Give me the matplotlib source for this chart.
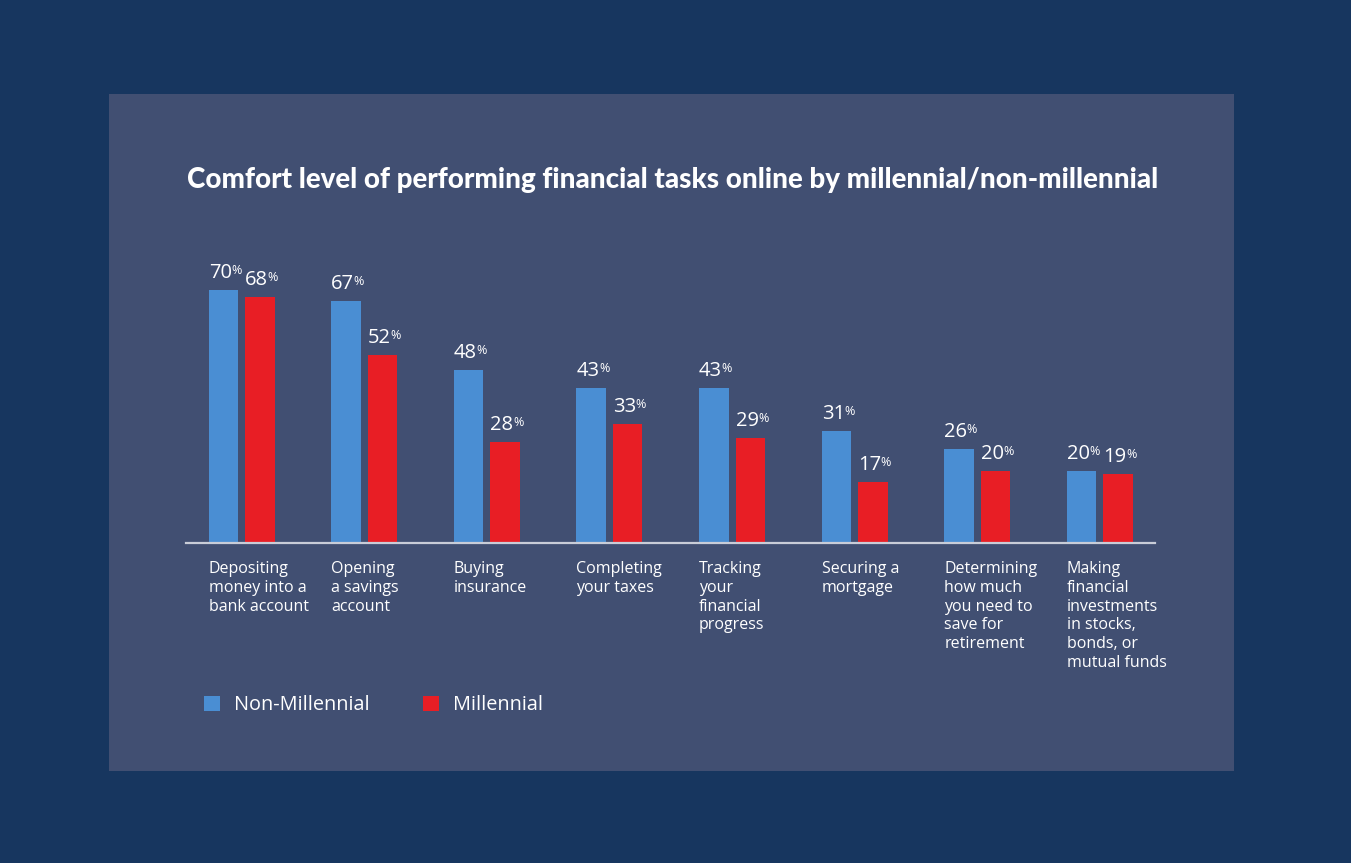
import matplotlib.pyplot as plt
from matplotlib.patches import Rectangle
import numpy as np

categories = [
    "Depositing\nmoney into a\nbank account",
    "Opening\na savings\naccount",
    "Buying\ninsurance",
    "Completing\nyour taxes",
    "Tracking\nyour\nfinancial\nprogress",
    "Securing a\nmortgage",
    "Determining\nhow much\nyou need to\nsave for\nretirement",
    "Making\nfinancial\ninvestments\nin stocks,\nbonds, or\nmutual funds",
]
non_millennial = [70, 67, 48, 43, 43, 31, 26, 20]
millennial = [68, 52, 28, 33, 29, 17, 20, 19]
series_names = ["Non-Millennial", "Millennial"]

OUTER = "#17365f"
PANEL = "#414f72"
BLUE = "#4a8ed3"
RED = "#e81e25"
FONT = ["Open Sans", "DejaVu Sans"]

W, H = 1351, 863
fig = plt.figure(figsize=(W / 100, H / 100), dpi=100)
fig.patch.set_facecolor(OUTER)

# inner panel
fig.patches.append(Rectangle((109 / W, 1 - 771 / H), 1125 / W, 677 / H,
                             transform=fig.transFigure, facecolor=PANEL,
                             edgecolor="none", zorder=-5))

# axes: x from 186 to 1155 px, y baseline at 543 px, 3.614 px per %
pitch = 122.57
c0 = 241.75
ax = fig.add_axes([186 / W, 1 - 543 / H, (1155 - 186) / W, 289 / H])
ax.set_zorder(2)
ax.set_facecolor("none")
ax.set_xlim((186 - c0) / pitch, (1155 - c0) / pitch)
ax.set_ylim(0, 80)

x = np.arange(len(categories))
bw = 29.5 / pitch
off = 18.25 / pitch
b1 = ax.bar(x - off, non_millennial, bw, color=BLUE, label=series_names[0])
b2 = ax.bar(x + off, millennial, bw, color=RED, label=series_names[1])

# value labels with a small raised percent sign
for bars, vals in ((b1, non_millennial), (b2, millennial)):
    for rect, v in zip(bars, vals):
        t = ax.annotate(str(v), (rect.get_x(), v), xytext=(0, 12),
                        textcoords="offset pixels", ha="left", va="baseline",
                        color="white", fontsize=14.5, family=FONT,
                        annotation_clip=False)
        ax.annotate("%", (0.98, 0.95), xycoords=t, ha="left", va="top",
                    color="white", fontsize=9, family=FONT,
                    annotation_clip=False)

for spine in ax.spines.values():
    spine.set_visible(False)
ax.axhline(0, color="#c9cdd8", lw=1.6, clip_on=False)
ax.set_xticks([])
ax.set_yticks([])

for xi, lab in zip(x, categories):
    ax.annotate(lab, (xi - off - bw / 2, 0), xytext=(0, -18),
                textcoords="offset pixels", ha="left", va="top",
                color="white", fontsize=11.5, family=FONT, linespacing=1.23,
                annotation_clip=False)

fig.text(673 / W, 1 - 180 / H,
         "Comfort level of performing financial tasks online by millennial/non-millennial",
         ha="center", va="center", color="white", fontsize=20,
         fontweight="black", family=["Lato", "DejaVu Sans"])

leg = fig.legend(handles=[b1, b2], labels=series_names, loc="center left",
                 bbox_to_anchor=(186 / W, 1 - 705 / H), ncol=2, frameon=False,
                 handlelength=0.8, handleheight=0.8, handletextpad=0.7,
                 columnspacing=2.7, prop={"family": FONT, "size": 14.3})
for t in leg.get_texts():
    t.set_color("white")

fig.savefig("out.png", dpi=100, facecolor=OUTER)
